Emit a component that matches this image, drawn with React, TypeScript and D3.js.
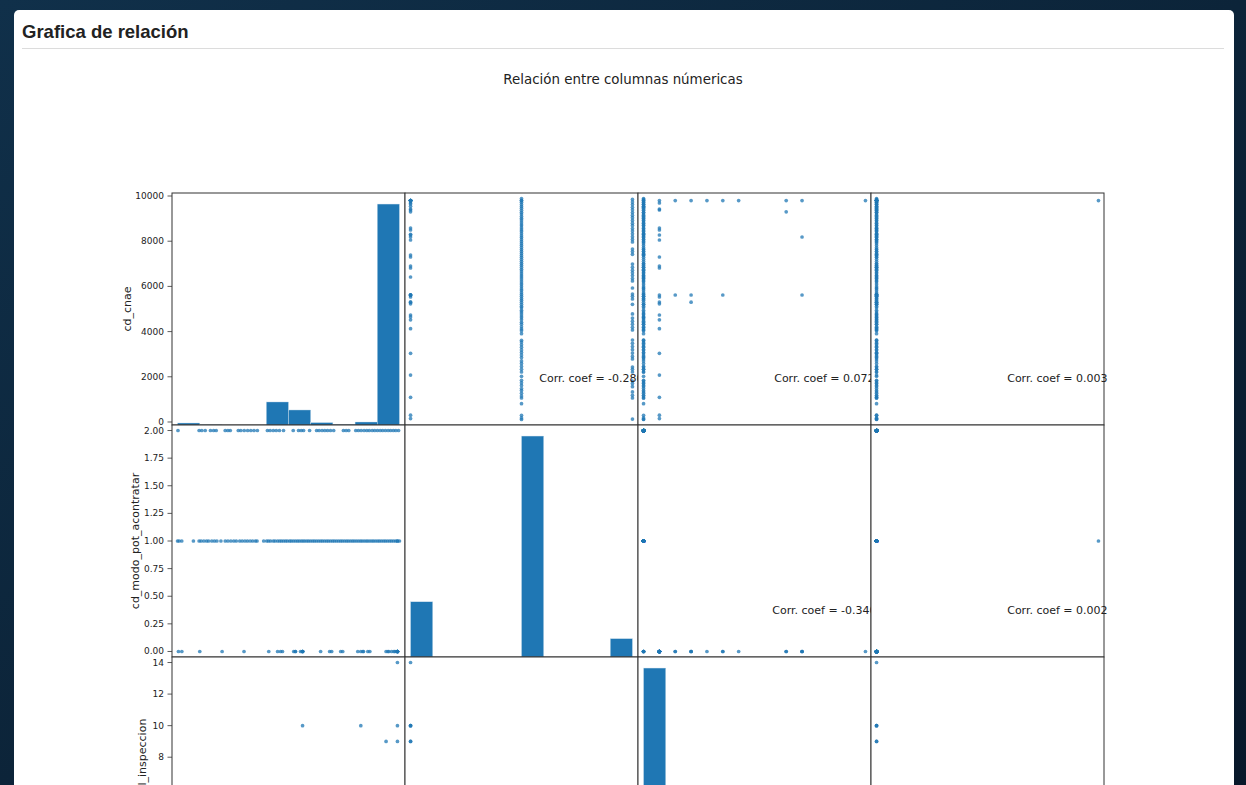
import React from "react";
import * as d3 from "d3";

// ---------------- data ----------------
const VARIABLES = ["cd_cnae", "cd_modo_pot_acontratar", "cd_nivel_inspeccion", "nu_trabajadores"];
const VAR_MIN = [111, 0, 0, 0];
const VAR_MAX = [9889, 2, 14, 480];

const Y_TICKS_CNAE = [0, 2000, 4000, 6000, 8000, 10000];
const Y_TICKS_MODO = [0, 0.25, 0.5, 0.75, 1, 1.25, 1.5, 1.75, 2];
const Y_TICKS_INSP = [0, 2, 4, 6, 8, 10, 12, 14];
const Y_TICKS_TRAB = [0, 100, 200, 300, 400];

// histogram counts (10 bins each)
const HIST_CNAE = [10, 1, 0, 0, 115, 75, 12, 2, 15, 1103];
const HIST_MODO = [250, 0, 0, 0, 0, 1000, 0, 0, 0, 83];
const HIST_INSP = [1290, 3, 4, 2, 1, 0, 3, 5, 0, 1];
const HIST_TRAB = [1332, 0, 0, 0, 0, 0, 0, 0, 0, 1];

// correlation coefficients (upper triangle)
const CORR_PAIRS: [number, number, number][] = [
  [0, 1, -0.28],
  [0, 2, 0.072],
  [0, 3, 0.003],
  [1, 2, -0.34],
  [1, 3, 0.002],
  [2, 3, -0.001],
];

// records with cd_modo_pot_acontratar = 1 (cd_cnae values)
const CNAE_MODO1 = [111, 180, 296, 810, 1062, 1150, 1270, 1390, 1480, 1620, 1735, 1845, 2022, 2212, 2330, 2460, 2590, 2700, 2850, 2960, 3080, 3190, 3310, 3420, 3540, 3614, 3907, 4040, 4120, 4210, 4330, 4410, 4520, 4610, 4690, 4780, 4870, 4950, 5050, 5120, 5210, 5300, 5390, 5470, 5560, 5640, 5720, 5810, 5890, 5980, 6070, 6150, 6240, 6330, 6420, 6500, 6590, 6680, 6760, 6850, 6940, 7020, 7110, 7200, 7290, 7370, 7460, 7550, 7630, 7720, 7810, 7890, 7980, 8070, 8160, 8240, 8330, 8420, 8500, 8590, 8680, 8760, 8850, 8940, 9020, 9110, 9200, 9280, 9370, 9460, 9540, 9630, 9720, 9800, 9889];

// records with cd_modo_pot_acontratar = 2 (cd_cnae values)
const CNAE_MODO2 = [130, 1062, 1180, 1330, 1562, 1700, 1814, 2212, 2330, 2434, 2788, 2900, 3050, 3200, 3340, 3480, 3628, 4071, 4190, 4330, 4460, 4600, 4780, 5208, 5443, 5560, 5664, 5929, 6239, 6350, 6480, 6600, 6720, 6850, 6991, 7420, 7540, 7655, 7965, 8080, 8200, 8330, 8450, 8560, 8690, 8800, 8920, 9040, 9150, 9270, 9390, 9500, 9620, 9730, 9850];

// records with cd_modo_pot_acontratar = 0: [cd_cnae, cd_nivel_inspeccion]
const MODO0_ROWS: [number, number][] = [
  [150, 1], [300, 1], [1090, 1], [2075, 1], [3040, 1], [4130, 1], [4520, 1], [4650, 0],
  [4735, 1], [5230, 1], [5310, 1], [5300, 3], [5531, 1], [5620, 1], [5620, 2], [5620, 3],
  [5620, 5], [5620, 10], [6416, 0], [6814, 1], [6903, 1], [7301, 1], [7389, 0], [8053, 1],
  [8186, 10], [8274, 1], [8305, 0], [8496, 1], [8584, 1], [9300, 9], [9381, 1], [9424, 1],
  [9544, 0], [9646, 0], [9690, 1], [9800, 1], [9800, 2], [9800, 3], [9800, 4], [9800, 5],
  [9800, 6], [9800, 9], [9800, 10], [9800, 14],
];

// single large record in nu_trabajadores: [cd_cnae, modo, insp, trabajadores]
const OUTLIER_ROW = [9800, 1, 0, 480];

// ---------------- layout ----------------
const W = 1246;
const H = 785;
const X0 = 172;
const Y0 = 193;
const CW = 233;
const CH = 232;
const BLUE = "#1f77b4";
const FONT = "'DejaVu Sans', sans-serif";

type Rec = number[];
const records: Rec[] = [
  ...CNAE_MODO1.map((c) => [c, 1, 0, 0]),
  ...CNAE_MODO2.map((c) => [c, 2, 0, 0]),
  ...MODO0_ROWS.map(([c, ins]) => [c, 0, ins, 0]),
  OUTLIER_ROW,
];

const HISTS = [HIST_CNAE, HIST_MODO, HIST_INSP, HIST_TRAB];
const YTICKS = [Y_TICKS_CNAE, Y_TICKS_MODO, Y_TICKS_INSP, Y_TICKS_TRAB];
const YFMT = [d3.format("d"), d3.format(".2f"), d3.format("d"), d3.format("d")];
const LABEL_X = [127, 135, 142, 138];

function domainOf(k: number): [number, number] {
  const pad = ((VAR_MAX[k] - VAR_MIN[k]) * 0.05) / 2;
  return [VAR_MIN[k] - pad, VAR_MAX[k] + pad];
}

const n = VARIABLES.length;
const xScales = VARIABLES.map((_, j) =>
  d3.scaleLinear().domain(domainOf(j)).range([X0 + j * CW, X0 + (j + 1) * CW])
);
const yScales = VARIABLES.map((_, i) =>
  d3.scaleLinear().domain(domainOf(i)).range([Y0 + (i + 1) * CH, Y0 + i * CH])
);

function corrFor(i: number, j: number): number | null {
  const p = CORR_PAIRS.find((c) => c[0] === i && c[1] === j);
  return p ? p[2] : null;
}

function Panel({ i, j }: { i: number; j: number }) {
  const x = X0 + j * CW;
  const y = Y0 + i * CH;
  const clipId = `clip-${i}-${j}`;
  let content: React.ReactNode = null;
  if (i === j) {
    const counts = HISTS[i];
    const cy = d3.scaleLinear().domain([0, (d3.max(counts) as number) * 1.05]).range([y + CH, y]);
    const binW = (VAR_MAX[i] - VAR_MIN[i]) / counts.length;
    content = counts.map((c, k) => {
      const a = xScales[j](VAR_MIN[i] + k * binW);
      const b = xScales[j](VAR_MIN[i] + (k + 1) * binW);
      return (
        <rect key={k} x={a} y={cy(c)} width={b - a} height={y + CH - cy(c)} fill={BLUE} stroke="#cfe0ee" strokeWidth={0.4} />
      );
    });
  } else {
    content = records.map((r, k) => (
      <circle key={k} cx={xScales[j](r[j])} cy={yScales[i](r[i])} r={1.85} fill={BLUE} fillOpacity={0.75} />
    ));
  }
  const corr = j > i ? corrFor(i, j) : null;
  const ty = y + 0.8 * CH;
  return (
    <g>
      <defs>
        <clipPath id={clipId}>
          <rect x={x} y={y} width={CW} height={CH} />
        </clipPath>
      </defs>
      <rect x={x} y={y} width={CW} height={CH} fill="#fff" />
      <g clipPath={`url(#${clipId})`}>{content}</g>
      <rect x={x} y={y} width={CW} height={CH} fill="none" stroke="#333" strokeWidth={1} />
      {corr !== null && ty < H && (
        <text x={x + 0.8 * CW} y={ty} textAnchor="middle" dominantBaseline="central" fontFamily={FONT} fontSize={11} fill="#222">
          {`Corr. coef = ${corr.toFixed(3)}`}
        </text>
      )}
    </g>
  );
}

export default function App() {
  const panels: React.ReactNode[] = [];
  for (let i = 0; i < n; i++) for (let j = 0; j < n; j++) panels.push(<Panel key={`${i}-${j}`} i={i} j={j} />);

  return (
    <div style={{ position: "fixed", left: 0, top: 0, width: W, height: H, overflow: "hidden" }}>
      <svg width={W} height={H} style={{ display: "block" }}>
        <defs>
          <linearGradient id="bg" x1="0" y1="0" x2="1" y2="1">
            <stop offset="0" stopColor="#10304a" />
            <stop offset="0.5" stopColor="#0c2439" />
            <stop offset="1" stopColor="#08182a" />
          </linearGradient>
        </defs>
        <rect x={0} y={0} width={W} height={H} fill="url(#bg)" />
        <rect x={14} y={10} width={1220} height={H + 20} rx={5} fill="#fff" />
        <text x={22} y={38} fontFamily="'Liberation Sans', Arial, sans-serif" fontWeight="bold" fontSize={18.5} fill="#222">
          Grafica de relación
        </text>
        <line x1={22} x2={1224} y1={48.5} y2={48.5} stroke="#dcdcdc" strokeWidth={1} />
        <text x={623} y={84} textAnchor="middle" fontFamily={FONT} fontSize={13.4} fill="#222">
          Relación entre columnas númericas
        </text>

        {panels}

        {/* y axes on first column */}
        {VARIABLES.map((name, i) => {
          const rowTop = Y0 + i * CH;
          if (rowTop > H) return null;
          return (
            <g key={name}>
              {YTICKS[i].map((t) => {
                const ty = yScales[i](t);
                if (ty > H - 6) return null;
                return (
                  <g key={t}>
                    <line x1={X0 - 4.5} x2={X0} y1={ty} y2={ty} stroke="#333" strokeWidth={0.8} />
                    <text x={X0 - 8} y={ty} textAnchor="end" dominantBaseline="central" fontFamily={FONT} fontSize={9} fill="#222">
                      {YFMT[i](t)}
                    </text>
                  </g>
                );
              })}
              <text
                transform={`translate(${LABEL_X[i]},${rowTop + CH / 2}) rotate(-90)`}
                textAnchor="middle"
                dominantBaseline="central"
                fontFamily={FONT}
                fontSize={11}
                fill="#222"
              >
                {name}
              </text>
            </g>
          );
        })}
      </svg>
    </div>
  );
}
